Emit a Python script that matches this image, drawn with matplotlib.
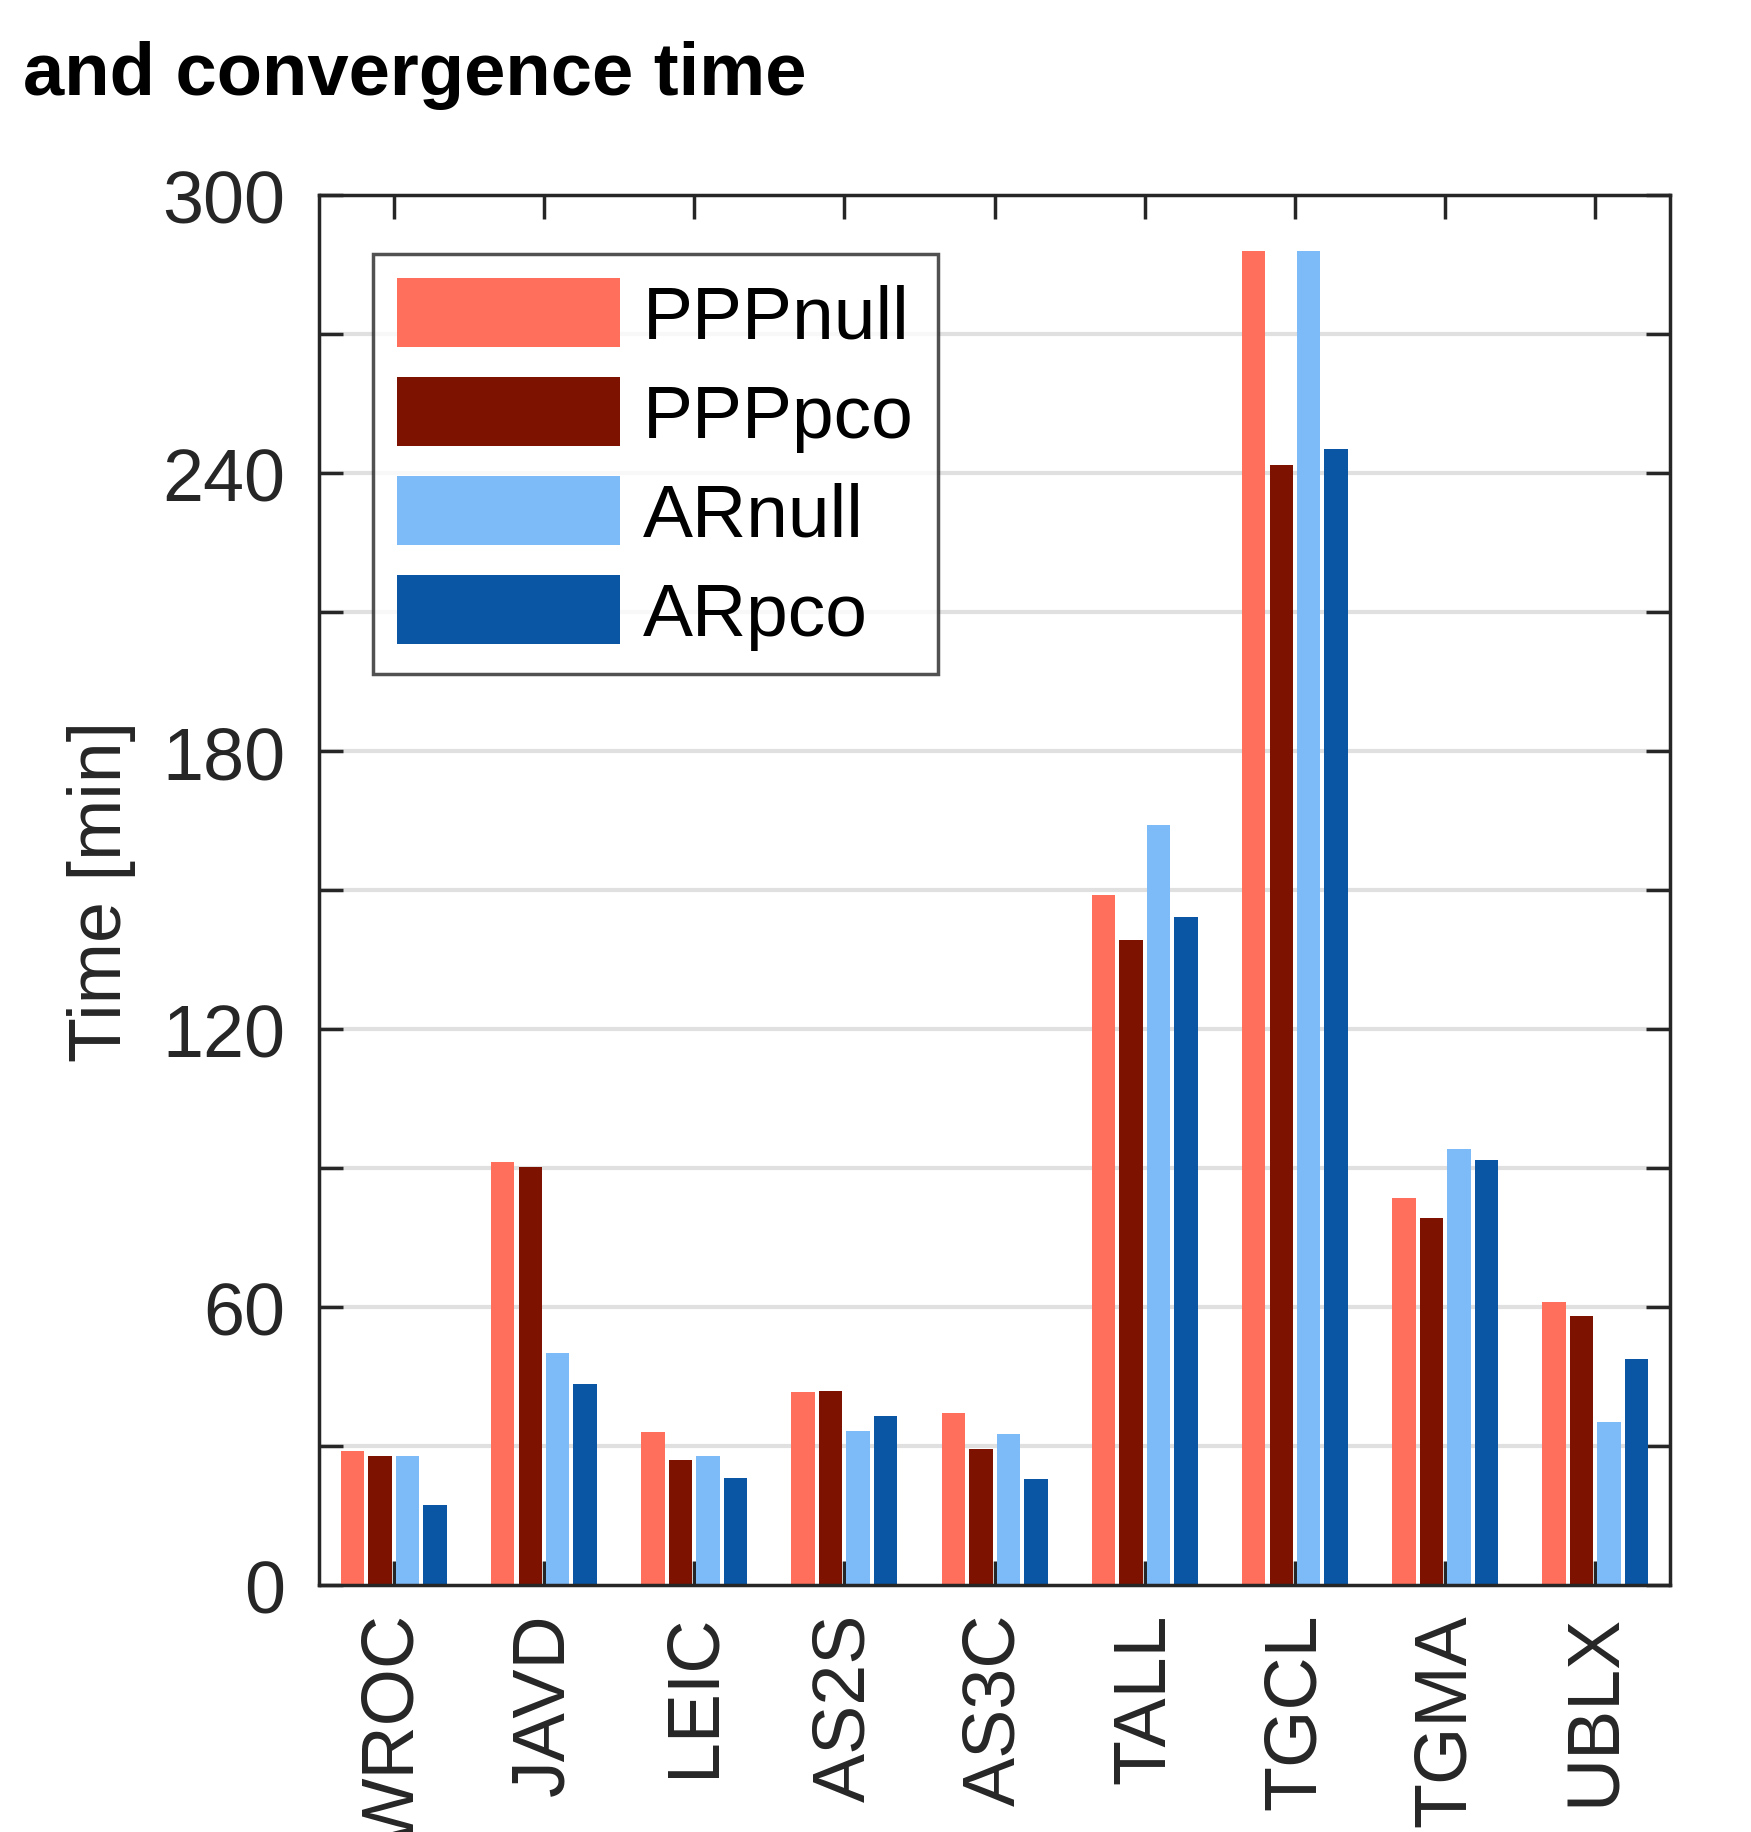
import numpy as np
import matplotlib.pyplot as plt

plt.rcParams['font.family'] = ['Liberation Sans', 'DejaVu Sans']

# station names and convergence times [min]
stations = ['WROC', 'JAVD', 'LEIC', 'AS2S', 'AS3C', 'TALL', 'TGCL', 'TGMA', 'UBLX']
series = ['PPPnull', 'PPPpco', 'ARnull', 'ARpco']
ppp_null = [29.0, 91.3, 33.1, 41.6, 37.1, 148.9, 287.9, 83.5, 61.1]
ppp_pco = [27.8, 90.3, 27.0, 41.9, 29.3, 139.3, 241.7, 79.2, 58.0]
ar_null = [27.8, 50.0, 27.8, 33.3, 32.6, 164.0, 287.9, 94.1, 35.1]
ar_pco = [17.2, 43.4, 23.2, 36.6, 23.0, 144.3, 245.3, 91.8, 48.7]
colors = ['#FF6F5B', '#7D1200', '#7DBBF8', '#0A56A4']

yticks = np.arange(0, 301, 30)
ylabels = [str(v) if v % 60 == 0 else '' for v in yticks]

fig = plt.figure(figsize=(17.51, 18.33), dpi=100)
ax = fig.add_axes([0.182, 0.1347, 0.772, 0.7583])

x = np.arange(1, len(stations) + 1)
step = 0.183
width = 0.156
data = [ppp_null, ppp_pco, ar_null, ar_pco]
for i, vals in enumerate(data):
    ax.bar(x + (i - 1.5) * step, vals, width=width, color=colors[i],
           label=series[i], zorder=2)

# grid under the bars, ticks on top
for v in yticks[1:-1]:
    ax.axhline(v, color='#E0E0E0', lw=3, zorder=0.5)

ax.set_xlim(0.5, len(stations) + 0.5)
ax.set_ylim(0, 300)
ax.set_yticks(yticks)
ax.set_yticklabels(ylabels)
ax.set_xticks(x)
ax.set_xticklabels(stations, rotation=90)
ax.tick_params(direction='in', length=17, width=2.5, color='#262626',
               top=True, right=True, labelsize=53, labelcolor='#262626', pad=24)
ax.tick_params(axis='x', pad=20)
for s in ax.spines.values():
    s.set_linewidth(2.5)
    s.set_color('#262626')
    s.set_zorder(3)
ax.set_ylabel('Time [min]', fontsize=53, color='#262626', labelpad=19)

leg = ax.legend(loc='upper left', bbox_to_anchor=(0.04, 0.958), fontsize=54,
                frameon=True, fancybox=False, edgecolor='#262626',
                handlelength=2.98, handleheight=1.04, handletextpad=0.3,
                labelspacing=0.32, borderpad=0.32, borderaxespad=0)
leg.get_frame().set_linewidth(2.5)
leg.set_zorder(4)

fig.text(0.013, 0.959, 'and convergence time', fontsize=53.5, fontweight='bold',
         ha='left', va='center')

fig.savefig('out.png', dpi=100)
